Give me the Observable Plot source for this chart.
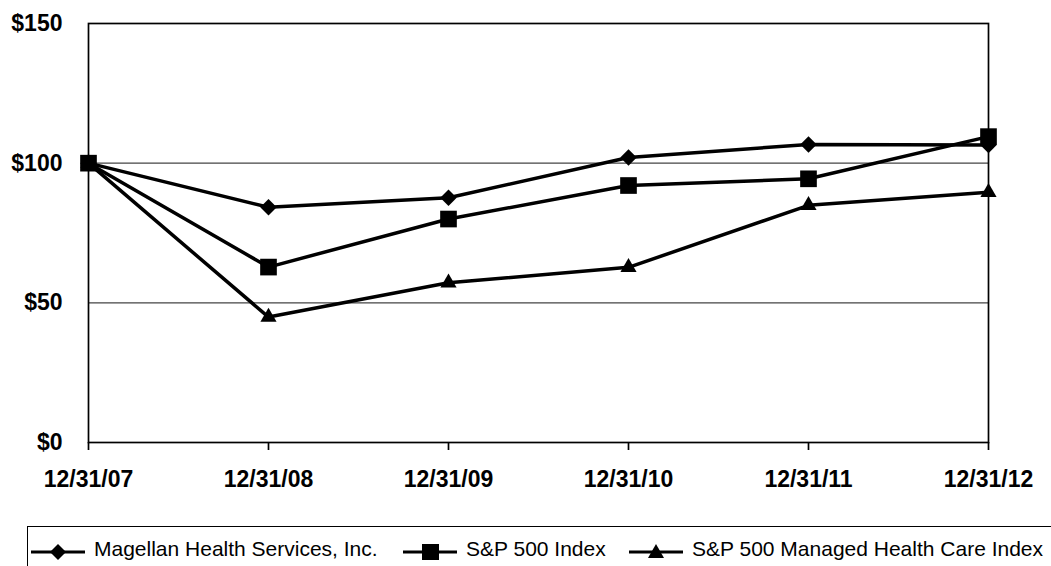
<!DOCTYPE html>
<html>
<head>
<meta charset="utf-8">
<script src="https://cdn.jsdelivr.net/npm/d3@7"></script>
<script src="https://cdn.jsdelivr.net/npm/@observablehq/plot@0.6"></script>
<style>
  html, body { margin: 0; padding: 0; background: white; }
  #wrap { position: relative; width: 1051px; height: 566px; overflow: hidden; font-family: "Liberation Sans", Arial, sans-serif; }
  #legend { position: absolute; left: 27px; top: 526px; width: 1030px; height: 60px; border-top: 1.7px solid black; border-left: 1.7px solid black; }
  .item { position: absolute; top: 0; height: 40px; }
  .item svg { position: absolute; top: 14px; left: 0; }
  .item span { position: absolute; top: 10px; font-size: 21px; white-space: nowrap; color: black; }
</style>
</head>
<body>
<div id="wrap"><div id="chart"></div><div id="legend"></div></div>
<script>
const dates = ["12/31/07", "12/31/08", "12/31/09", "12/31/10", "12/31/11", "12/31/12"];
const magellan = [100, 84.2, 87.6, 102.0, 106.7, 106.5];
const sp500 = [100, 62.8, 80.0, 92.0, 94.4, 109.5];
const managed = [100, 44.9, 57.2, 62.7, 84.9, 89.6];
const seriesNames = ["Magellan Health Services, Inc.", "S&P 500 Index", "S&P 500 Managed Health Care Index"];
const yTicks = [0, 50, 100, 150];
const gridValues = [50, 100];

const seriesValues = [magellan, sp500, managed];
const rows = dates.flatMap((d, i) => seriesNames.map((s, k) => ({date: d, series: s, value: seriesValues[k][i]})));

const symbols = ["diamond2", "square", "triangle"];
const radii = [7.4, 9.4, 6.0];

const chart = Plot.plot({
  width: 1051,
  height: 520,
  marginLeft: 88,
  marginRight: 63,
  marginTop: 23,
  marginBottom: 78,
  x: {type: "point", domain: dates, padding: 0},
  y: {domain: [0, 150]},
  style: {fontFamily: "'Liberation Sans', Arial, sans-serif", color: "black", background: "white"},
  marks: [
    Plot.ruleY(gridValues, {stroke: "#444", strokeWidth: 1.2}),
    Plot.frame({stroke: "black", strokeWidth: 1.7}),
    Plot.axisY(yTicks, {tickSize: 0, tickPadding: 26, tickFormat: d => "$" + d, fontSize: 23, fontWeight: "bold", label: null}),
    Plot.axisX({tickSize: 8, tickPadding: 20, fontSize: 23, fontWeight: "bold", label: null, strokeWidth: 1.7}),
    Plot.line(rows, {x: "date", y: "value", z: "series", stroke: "black", strokeWidth: 3.5}),
    ...seriesNames.map((s, k) => Plot.dot(rows.filter(r => r.series === s), {
      x: "date", y: "value", symbol: symbols[k], r: radii[k], fill: "black", stroke: "none"
    }))
  ]
});
document.getElementById("chart").appendChild(chart);

// legend
const legend = document.getElementById("legend");
const itemLefts = [3, 375, 601];
const symbolPaths = [
  "M27,3 L35,11 L27,19 L19,11 Z",
  "M19,3 L36,3 L36,19 L19,19 Z",
  "M27,3 L35,17 L19,17 Z"
];
const symbolOffsets = [25, 26, 27];
seriesNames.forEach((name, k) => {
  const item = document.createElement("div");
  item.className = "item";
  item.style.left = itemLefts[k] + "px";
  const ns = "http://www.w3.org/2000/svg";
  const svg = document.createElementNS(ns, "svg");
  svg.setAttribute("width", 56);
  svg.setAttribute("height", 22);
  const ln = document.createElementNS(ns, "line");
  ln.setAttribute("x1", 0); ln.setAttribute("x2", 54);
  ln.setAttribute("y1", 11); ln.setAttribute("y2", 11);
  ln.setAttribute("stroke", "black"); ln.setAttribute("stroke-width", 3);
  svg.appendChild(ln);
  const p = document.createElementNS(ns, "path");
  p.setAttribute("d", symbolPaths[k]);
  p.setAttribute("fill", "black");
  svg.appendChild(p);
  item.appendChild(svg);
  const sp = document.createElement("span");
  sp.textContent = name;
  sp.style.left = "63px";
  item.appendChild(sp);
  legend.appendChild(item);
});
</script>
</body>
</html>
